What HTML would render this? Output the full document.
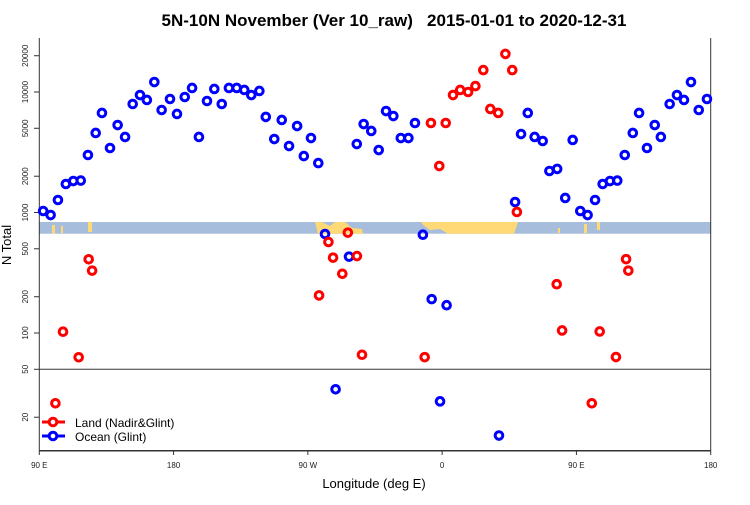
<!DOCTYPE html>
<html><head><meta charset="utf-8"><style>
body{margin:0;background:#fff;font-family:"Liberation Sans",sans-serif}
svg text{font-family:"Liberation Sans",sans-serif}
</style></head><body>
<svg id="chart" width="750" height="500" xmlns="http://www.w3.org/2000/svg">
<text x="394" y="26" text-anchor="middle" font-size="17" font-weight="bold" style="white-space:pre" xml:space="preserve">5N-10N November (Ver 10_raw)   2015-01-01 to 2020-12-31</text>
<rect x="39.3" y="222" width="671.4" height="11.7" fill="#a6bddb"/>
<g fill="#fed976">
<polygon points="315,222 322,222 330,226 335,222 345,222 352,228 362,229 363,233.7 318,233.7"/>
<polygon points="421,222 518,222 514,233.7 448,233.7 440,229 430,230 423,225"/>
<rect x="52" y="225" width="3" height="8.7"/><rect x="61" y="226" width="2" height="7"/>
<rect x="88" y="222" width="4" height="10"/><rect x="558" y="228" width="2" height="5"/>
<rect x="584" y="224" width="3" height="9"/><rect x="597" y="222" width="3" height="8"/>
</g>
<g id="axes" stroke="#333" fill="none">
<line x1="39.3" y1="38" x2="39.3" y2="450.7"/>
<line x1="710.7" y1="38" x2="710.7" y2="450.7"/>
<line x1="39.3" y1="450.7" x2="710.7" y2="450.7" stroke-width="1.5"/>
<line x1="39.3" y1="369.3" x2="710.7" y2="369.3"/>
</g>
<g id="ticks"></g>
<g id="pts"></g>
<text x="374" y="488" text-anchor="middle" font-size="13">Longitude (deg E)</text>
<text transform="translate(11,245) rotate(-90)" text-anchor="middle" font-size="13">N Total</text>
<g>
<g>
<line x1="42" y1="422" x2="65" y2="422" stroke="#f00" stroke-width="3"/>
<circle cx="53" cy="422" r="3.8" fill="#fff" stroke="#f00" stroke-width="3"/>
<text x="75" y="427" font-size="12">Land (Nadir&amp;Glint)</text></g>
<g>
<line x1="42" y1="436" x2="65" y2="436" stroke="#00f" stroke-width="3"/>
<circle cx="53" cy="436" r="3.8" fill="#fff" stroke="#00f" stroke-width="3"/>
<text x="75" y="441" font-size="12">Ocean (Glint)</text></g>
</g>
</svg>
<script>
const xTickVals=[90,180,270,360,450,540];
const xTickLabels=["90 E","180","90 W","0","90 E","180"];
const yTickVals=[20,50,100,200,500,1000,2000,5000,10000,20000];
const oceanLon=[92.6,97.6,102.5,107.8,112.8,117.8,122.6,127.8,132.0,137.4,142.5,147.5,152.6,157.5,162.1,167.1,172.0,177.6,182.3,187.5,192.4,197.0,202.4,207.3,212.3,217.1,222.3,227.4,232.1,237.5,241.8,247.5,252.5,257.4,262.8,267.3,272.1,277.0,281.5,288.6,297.6,302.8,307.4,312.5,317.5,322.4,327.3,332.3,337.4,341.8,347.1,353.0,358.6,363.0,398.1,408.9,412.9,417.4,422.0,427.4,431.9,437.1,442.5,447.5,452.6,457.5,462.5,467.6,472.5,477.4,482.4,487.8,492.0,497.3,502.5,506.6,512.5,517.4,522.1,526.8,532.0,537.5];
const oceanN=[1029,953,1270,1724,1825,1840,3000,4570,6700,3430,5320,4235,7950,9440,8590,12100,7090,8750,6570,9090,10800,4235,8420,10600,7950,10800,10800,10400,9440,10200,6210,4070,5860,3560,5220,2940,4150,2570,663,34.1,430,3700,5420,4750,3300,6950,6320,4150,4150,5530,654,191,27.1,170,14.1,1222,4480,6700,4235,3920,2210,2300,1320,4000,1029,953,1270,1724,1825,1840,3000,4570,6700,3430,5320,4235,7950,9440,8590,12100,7090,8750];
const landLon=[352.5,362.4,358.1,367.3,372.1,377.4,382.3,387.6,392.3,397.6,402.4,407.0,410.1,296.8,283.8,286.9,302.9,293.1,277.5,306.3,348.3,123.1,125.4,105.9,116.4,100.8,436.8,440.4,465.6,476.5,460.3,483.3,484.8];
const landN=[5530,5530,2430,9440,10400,10000,11200,15200,7230,6700,20700,15200,1010,680,569,422,435,310,205,66,63,409,329,102.5,62.9,26.1,254,105,103,63.2,26.1,410,329];
const NS='http://www.w3.org/2000/svg';
function xs(lon){return 39.3+(lon-90)*671.4/450;}
function ys(v){return 333-120.5*Math.log10(v/100);}
const tg=document.getElementById('ticks');
function mk(t,a,p){const e=document.createElementNS(NS,t);for(const k in a)e.setAttribute(k,a[k]);p.appendChild(e);return e;}
xTickVals.forEach((v,i)=>{
 const l=mk('line',{x1:xs(v),x2:xs(v),y1:450.7,y2:455,stroke:'#333'},tg);
 
 
 const t=mk('text',{x:xs(v),y:468,'text-anchor':'middle','font-size':8,fill:'#222'},tg);
 t.textContent=xTickLabels[i];
 
 
});
yTickVals.forEach(v=>{
 const y=ys(v);
 const l=mk('line',{x1:34,x2:39.3,y1:y,y2:y,stroke:'#333'},tg);
 
 
 const t=mk('text',{transform:`translate(28,${y}) rotate(-90)`,'text-anchor':'middle','font-size':8,fill:'#222'},tg);
 t.textContent=String(v);
 
 
});
const pg=document.getElementById('pts');
function series(lon,n,col,name){lon.forEach((l,i)=>{
 const c=mk('circle',{cx:xs(l),cy:ys(n[i]),r:3.8,fill:'none',stroke:col,'stroke-width':3},pg);
 
 
});}
series(oceanLon,oceanN,'#00f','ocean-point');
series(landLon,landN,'#f00','land-point');
</script>
</body></html>
